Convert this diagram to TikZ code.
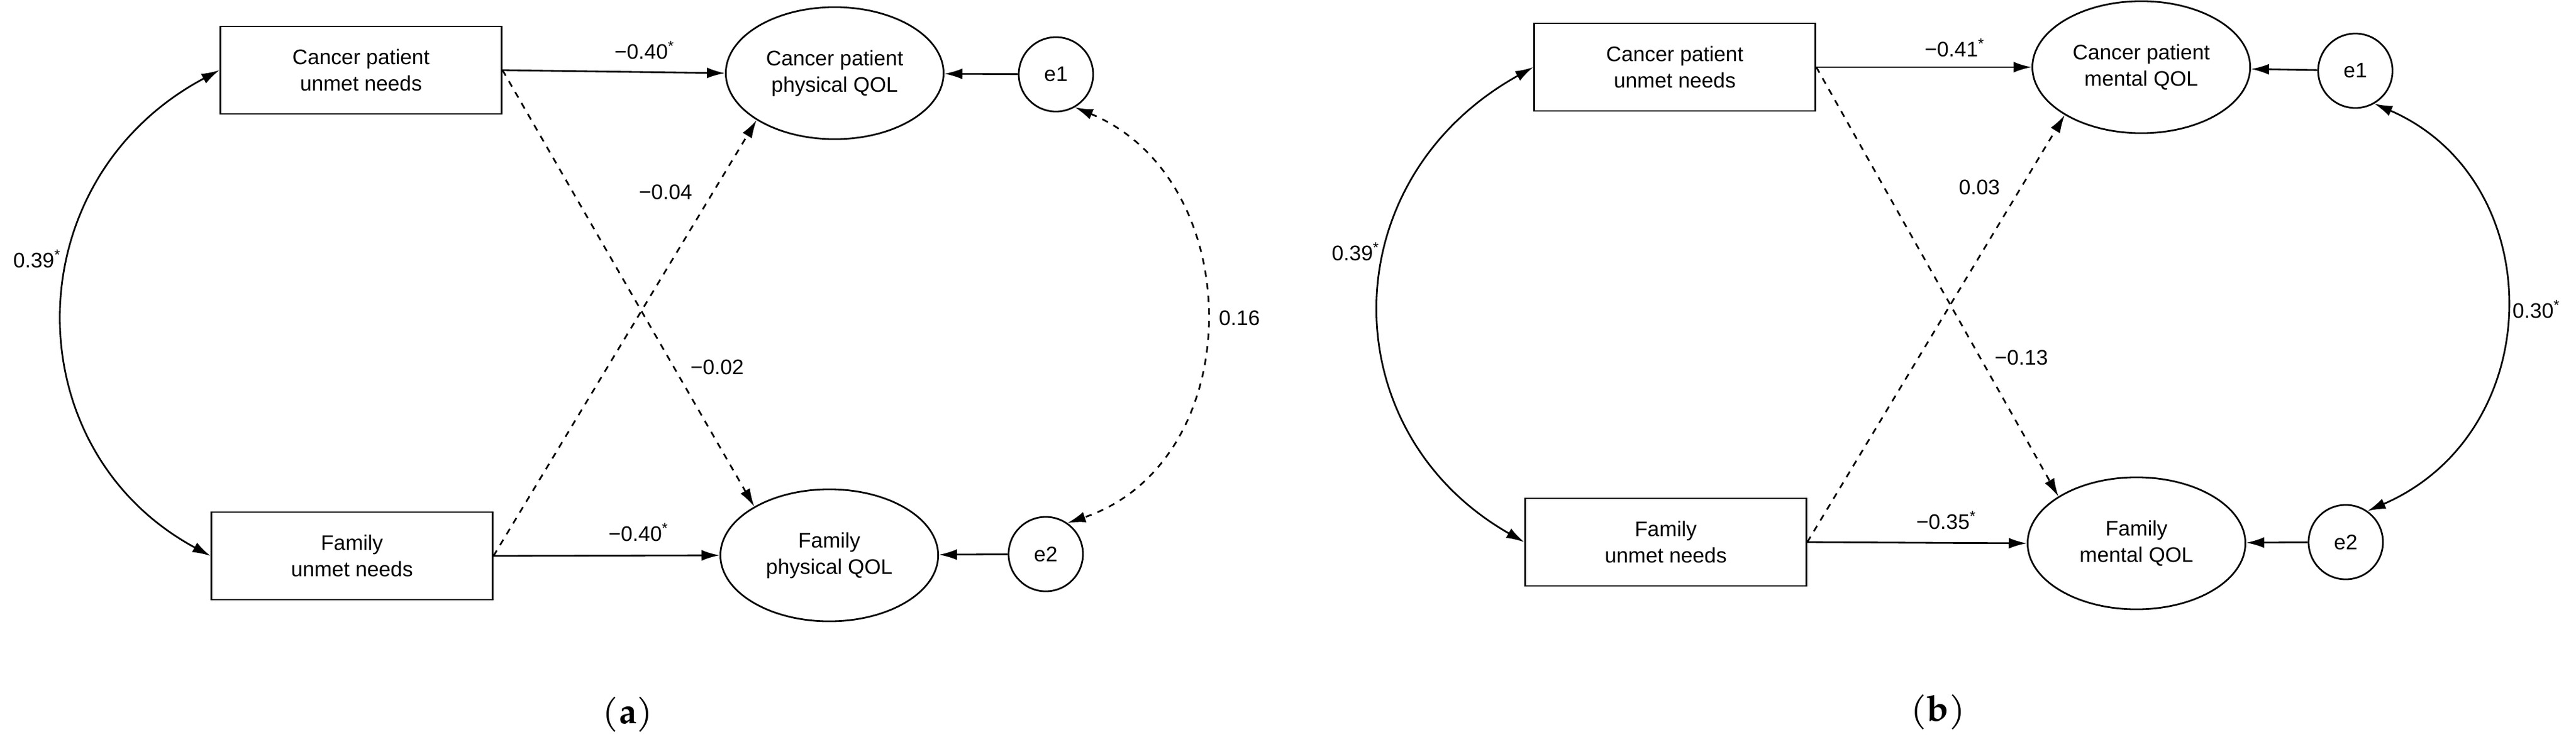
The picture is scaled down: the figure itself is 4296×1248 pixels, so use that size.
\documentclass[tikz,border=0pt]{standalone}
\usepackage{fontspec}
\setmainfont{Liberation Sans}
\newfontfamily\capfont{TeX Gyre Pagella}
\usetikzlibrary{positioning,arrows.meta,shapes.geometric}

\tikzset{
  var/.style={draw, thick, minimum width=4.69cm, minimum height=1.46cm, align=center, font=\fontsize{10}{12.5}\selectfont},
  qol/.style={draw, thick, ellipse, minimum width=3.63cm, minimum height=2.2cm, align=center, inner sep=0pt, font=\fontsize{10}{12.5}\selectfont},
  err/.style={draw, thick, circle, minimum size=1.24cm, inner sep=0pt, font=\fontsize{10}{12}\selectfont},
  path/.style={thick, -{Latex[length=0.3cm,width=0.18cm]}},
  both/.style={thick, {Latex[length=0.3cm,width=0.18cm]}-{Latex[length=0.3cm,width=0.18cm]}},
  lbl/.style={font=\fontsize{10}{12}\selectfont, inner sep=1pt},
  caption/.style={font=\capfont\fontsize{17}{20}\selectfont}
}

\begin{document}
\begin{tikzpicture}[x=0.01cm, y=-0.01cm]
  \useasboundingbox (0,0) rectangle (4296,1248);

  % panel (a)
  \node[var] (cpa)  at (602,117)  {Cancer patient\\unmet needs};
  \node[var] (fa)   at (587,927)  {Family\\unmet needs};
  \node[qol] (qa)   at (1392,122) {Cancer patient\\physical QOL};
  \node[qol] (fqa)  at (1383,926) {Family\\physical QOL};
  \node[err] (e1a)  at (1761,124) {e1};
  \node[err] (e2a)  at (1744,924) {e2};

  \draw[path] (cpa.east) -- (qa.west);
  \draw[path] (fa.east) -- (fqa.west);
  \draw[path, dashed] (cpa.east) -- (fqa.147);
  \draw[path, dashed] (fa.east) -- (qa.211);
  \draw[path] (e1a) -- (qa);
  \draw[path] (e2a) -- (fqa);
  \draw[both] (cpa.west) .. controls (22,300) and (22,750) .. (fa.west);
  \draw[both, dashed] (e1a.-60) .. controls (2084,300) and (2084,770) .. (e2a.55);

  \node[lbl] (la1) at (1075,84)  {−0.40\textsuperscript{*}};
  \node[lbl] (la2) at (1110,320) {−0.04};
  \node[lbl] (la3) at (1196,612) {−0.02};
  \node[lbl] (la4) at (1065,888) {−0.40\textsuperscript{*}};
  \node[lbl] (la5) at (62,432)   {0.39\textsuperscript{*}};
  \node[lbl] (la6) at (2067,530) {0.16};
  \node[caption] (capa) at (1047,1192) {(\textbf{a})};

  % panel (b)
  \node[var] (cpb)  at (2793,112) {Cancer patient\\unmet needs};
  \node[var] (fb)   at (2778,904) {Family\\unmet needs};
  \node[qol] (qb)   at (3571,112) {Cancer patient\\mental QOL};
  \node[qol] (fqb)  at (3563,906) {Family\\mental QOL};
  \node[err] (e1b)  at (3928,118) {e1};
  \node[err] (e2b)  at (3912,904) {e2};

  \draw[path] (cpb.east) -- (qb.west);
  \draw[path] (fb.east) -- (fqb.west);
  \draw[path, dashed] (cpb.east) -- (fqb.149);
  \draw[path, dashed] (fb.east) -- (qb.212);
  \draw[path] (e1b) -- (qb);
  \draw[path] (e2b) -- (fqb);
  \draw[both] (cpb.west) .. controls (2219,300) and (2219,720) .. (fb.west);
  \draw[both] (e1b.-60) .. controls (4253,300) and (4253,720) .. (e2b.55);

  \node[lbl] (lb1) at (3260,80)  {−0.41\textsuperscript{*}};
  \node[lbl] (lb2) at (3301,312) {0.03};
  \node[lbl] (lb3) at (3371,596) {−0.13};
  \node[lbl] (lb4) at (3246,868) {−0.35\textsuperscript{*}};
  \node[lbl] (lb5) at (2261,420) {0.39\textsuperscript{*}};
  \node[lbl] (lb6) at (4230,516) {0.30\textsuperscript{*}};
  \node[caption] (capb) at (3232,1188) {(\textbf{b})};
\end{tikzpicture}
\end{document}
